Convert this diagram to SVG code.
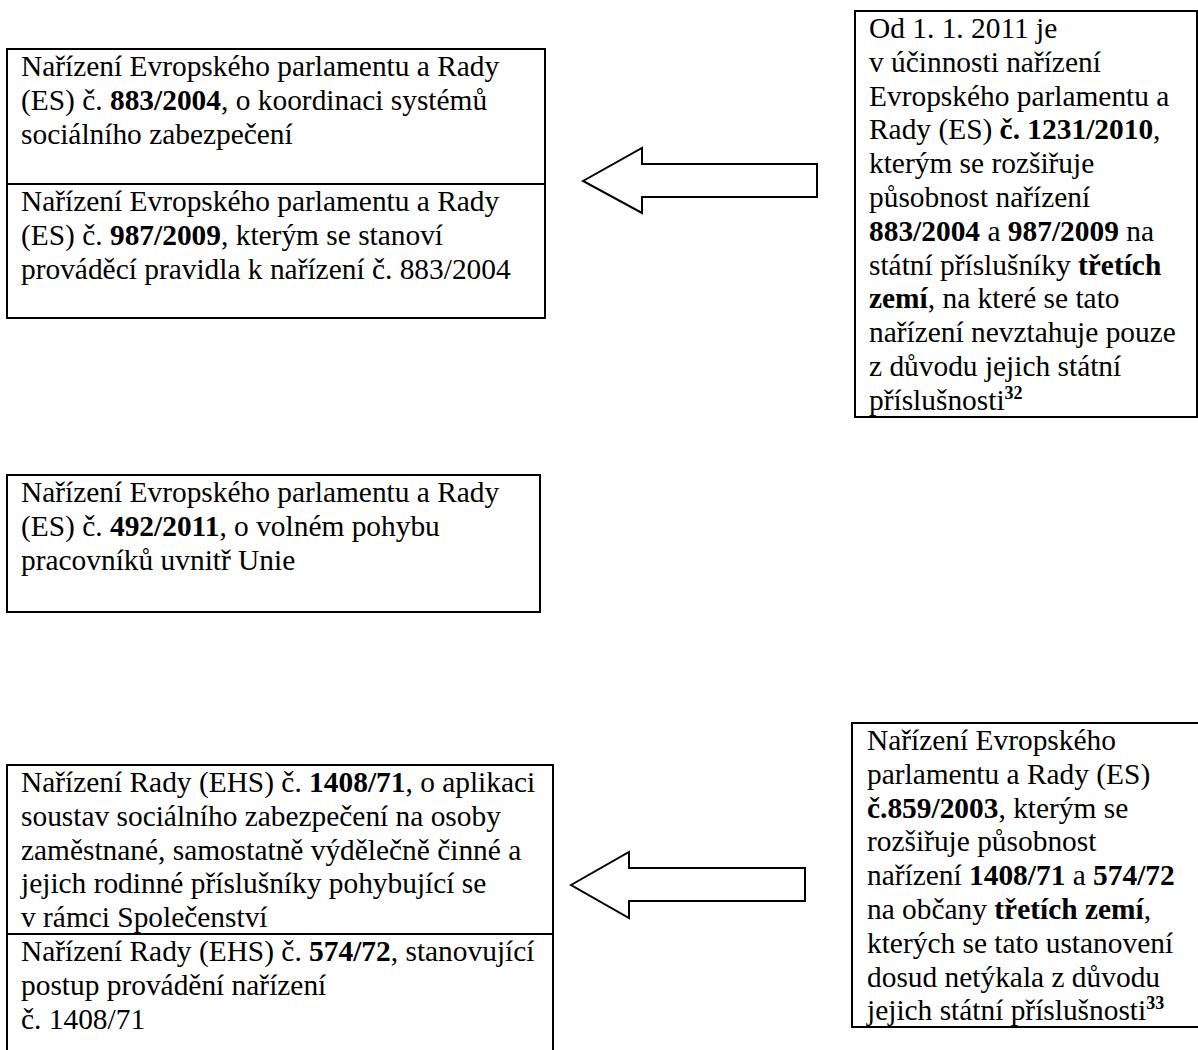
<svg xmlns="http://www.w3.org/2000/svg" width="1198" height="1050" viewBox="0 0 1198 1050">
<style>
.t{font-family:"Liberation Serif","Times New Roman",serif;font-size:29.4px;fill:#000}
.b{font-weight:bold}
.sup{font-weight:bold;font-size:18px}
.box{fill:none;stroke:#000;stroke-width:2}
.arrow{fill:#fff;stroke:#000;stroke-width:2;stroke-linejoin:miter}
</style>
<rect width="1198" height="1050" fill="#fff"/>
<g id="connectors">
<polygon class="arrow" points="583,181 642,148 642,164 817,164 817,197 642,197 642,213"/>
<polygon class="arrow" points="571,885 629,852 629,868 805,868 805,901 629,901 629,918"/>
</g>
<g id="node-883-987">
<rect class="box" x="7" y="49" width="538" height="269"/>
<line class="box" x1="7" y1="184" x2="545" y2="184"/>
<text class="t" x="21" y="76">Nařízení Evropského parlamentu a Rady</text>
<text class="t" x="21" y="110">(ES) č. <tspan class="b">883/2004</tspan>, o koordinaci systémů</text>
<text class="t" x="21" y="144">sociálního zabezpečení</text>
<text class="t" x="21" y="211">Nařízení Evropského parlamentu a Rady</text>
<text class="t" x="21" y="245">(ES) č. <tspan class="b">987/2009</tspan>, kterým se stanoví</text>
<text class="t" x="21" y="279">prováděcí pravidla k nařízení č. 883/2004</text>
</g>
<g id="node-1231">
<rect class="box" x="855" y="11" width="342" height="406"/>
<text class="t" x="869" y="38">Od 1. 1. 2011 je</text>
<text class="t" x="869" y="71.8">v účinnosti nařízení</text>
<text class="t" x="869" y="105.6">Evropského parlamentu a</text>
<text class="t" x="869" y="139.4">Rady (ES) <tspan class="b">č. 1231/2010</tspan>,</text>
<text class="t" x="869" y="173.2">kterým se rozšiřuje</text>
<text class="t" x="869" y="207">působnost nařízení</text>
<text class="t" x="869" y="240.8"><tspan class="b">883/2004</tspan> a <tspan class="b">987/2009</tspan> na</text>
<text class="t" x="869" y="274.6">státní příslušníky <tspan class="b">třetích</tspan></text>
<text class="t" x="869" y="308.4"><tspan class="b">zemí</tspan>, na které se tato</text>
<text class="t" x="869" y="342.2">nařízení nevztahuje pouze</text>
<text class="t" x="869" y="376">z důvodu jejich státní</text>
<text class="t" x="869" y="409.8">příslušnosti<tspan class="sup" dy="-11">32</tspan></text>
</g>
<g id="node-492">
<rect class="box" x="7" y="475" width="533" height="137"/>
<text class="t" x="21" y="502">Nařízení Evropského parlamentu a Rady</text>
<text class="t" x="21" y="535.8">(ES) č. <tspan class="b">492/2011</tspan>, o volném pohybu</text>
<text class="t" x="21" y="569.6">pracovníků uvnitř Unie</text>
</g>
<g id="node-1408-574">
<path class="box" d="M7,1060 V765 H553 V1060"/>
<line class="box" x1="7" y1="934" x2="553" y2="934"/>
<text class="t" x="21" y="792">Nařízení Rady (EHS) č. <tspan class="b">1408/71</tspan>, o aplikaci</text>
<text class="t" x="21" y="825.8">soustav sociálního zabezpečení na osoby</text>
<text class="t" x="21" y="859.6">zaměstnané, samostatně výdělečně činné a</text>
<text class="t" x="21" y="893.4">jejich rodinné příslušníky pohybující se</text>
<text class="t" x="21" y="927.2">v rámci Společenství</text>
<text class="t" x="21" y="961">Nařízení Rady (EHS) č. <tspan class="b">574/72</tspan>, stanovující</text>
<text class="t" x="21" y="994.8">postup provádění nařízení</text>
<text class="t" x="21" y="1028.6">č. 1408/71</text>
</g>
<g id="node-859">
<path class="box" d="M1200,723 H852 V1027 H1200"/>
<text class="t" x="867" y="750">Nařízení Evropského</text>
<text class="t" x="867" y="783.8">parlamentu a Rady (ES)</text>
<text class="t" x="867" y="817.6"><tspan class="b">č.859/2003</tspan>, kterým se</text>
<text class="t" x="867" y="851.4">rozšiřuje působnost</text>
<text class="t" x="867" y="885.2">nařízení <tspan class="b">1408/71</tspan> a <tspan class="b">574/72</tspan></text>
<text class="t" x="867" y="919">na občany <tspan class="b">třetích zemí</tspan>,</text>
<text class="t" x="867" y="952.8">kterých se tato ustanovení</text>
<text class="t" x="867" y="986.6">dosud netýkala z důvodu</text>
<text class="t" x="867" y="1020.4">jejich státní příslušnosti<tspan class="sup" dy="-11">33</tspan></text>
</g>
</svg>
